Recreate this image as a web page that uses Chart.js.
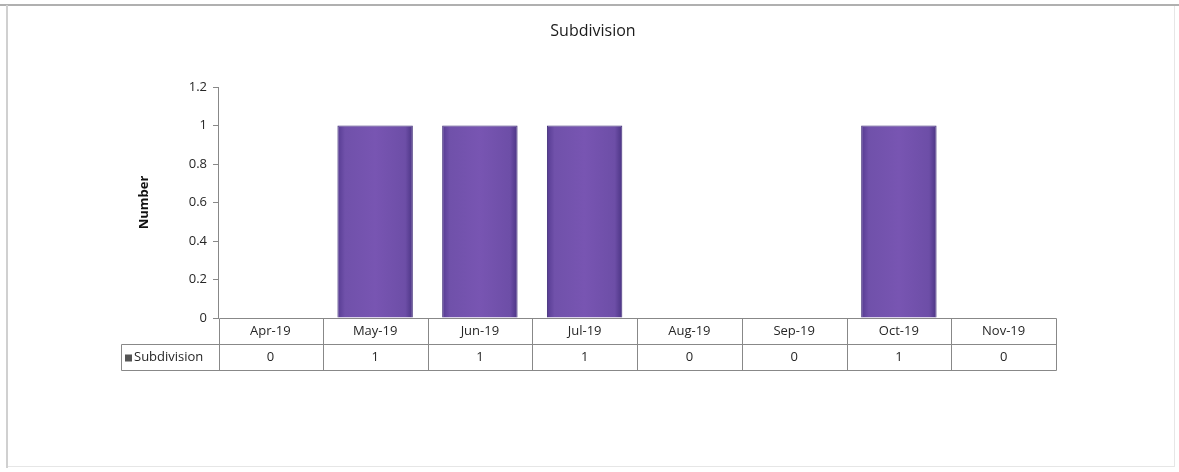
<!DOCTYPE html>
<html>
<head>
<meta charset="utf-8">
<title>Subdivision</title>
<script src="https://cdn.jsdelivr.net/npm/chart.js@4"></script>
<style>
  html, body { margin: 0; padding: 0; background: #fff; }
  #wrap { width: 1179px; height: 472px; position: relative; }
</style>
</head>
<body>
<div id="wrap"><canvas id="myChart" width="1179" height="472"></canvas></div>
<script>
var months = ["Apr-19", "May-19", "Jun-19", "Jul-19", "Aug-19", "Sep-19", "Oct-19", "Nov-19"];
var subdivision = [0, 1, 1, 1, 0, 0, 1, 0];
var yTicks = [0, 0.2, 0.4, 0.6, 0.8, 1, 1.2];

var seriesName = "Subdivision";
var font = "'Open Sans', 'Liberation Sans', sans-serif";
var lineColor = "#888";
var textColor = "#262626";

// purple bars with a slight left-to-right sheen
function barFill(ctx) {
  var chart = ctx.chart;
  var area = chart.chartArea;
  var x = chart.scales.x;
  if (!area || ctx.dataIndex === undefined) return "#7152ab";
  var cx = x.getPixelForValue(ctx.dataIndex);
  var half = (x.width / months.length) * 0.72 / 2;
  var g = chart.ctx.createLinearGradient(cx - half, 0, cx + half, 0);
  g.addColorStop(0, "#563b92");
  g.addColorStop(0.1, "#7051aa");
  g.addColorStop(0.5, "#7855b2");
  g.addColorStop(0.9, "#6d4ea7");
  g.addColorStop(1, "#4b3484");
  return g;
}

// frame, title and the data table under the plot
var extras = {
  id: "extras",
  beforeDraw: function (chart) {
    var c = chart.ctx;
    c.save();
    c.fillStyle = "#fff";
    c.fillRect(0, 0, chart.width, chart.height);
    c.strokeStyle = "#e6e6e6";
    c.lineWidth = 1;
    c.strokeRect(7.5, 5.5, 1167, 461);
    c.strokeStyle = "#b0b0b0";
    c.lineWidth = 2;
    c.beginPath();
    c.moveTo(0, 5); c.lineTo(chart.width, 5);
    c.stroke();
    c.strokeStyle = "#d0d0d0";
    c.beginPath();
    c.moveTo(7, 5); c.lineTo(7, 468);
    c.stroke();

    c.fillStyle = "#1a1a1a";
    c.font = "16px " + font;
    c.textAlign = "center";
    c.textBaseline = "middle";
    c.fillText("Subdivision", 593, 31);
    c.restore();
  },
  afterDraw: function (chart) {
    var c = chart.ctx;
    var x = chart.scales.x;
    var area = chart.chartArea;
    var colW = x.width / months.length;
    var top = Math.round(area.bottom) + 0.5;
    var mid = top + 26;
    var bot = mid + 26;
    var left = Math.round(area.left) + 1.5;
    var right = Math.round(area.right) + 0.5;
    var legLeft = 121.5;

    c.save();
    c.strokeStyle = lineColor;
    c.lineWidth = 1;
    c.beginPath();
    c.moveTo(left, top); c.lineTo(right, top);
    c.moveTo(legLeft, mid); c.lineTo(right, mid);
    c.moveTo(legLeft, bot); c.lineTo(right, bot);
    c.moveTo(legLeft, mid); c.lineTo(legLeft, bot);
    for (var i = 0; i <= months.length; i++) {
      var bx = i === 0 ? left : Math.round(x.getPixelForValue(i) - colW / 2) + 0.5;
      if (i === months.length) bx = right;
      c.moveTo(bx, top); c.lineTo(bx, bot);
    }
    c.stroke();

    c.fillStyle = textColor;
    c.font = "13px " + font;
    c.textAlign = "center";
    c.textBaseline = "middle";
    for (var j = 0; j < months.length; j++) {
      var cx = x.getPixelForValue(j);
      c.fillText(months[j], cx, (top + mid) / 2);
      c.fillText(String(subdivision[j]), cx, (mid + bot) / 2);
    }

    // legend key
    c.fillStyle = "#555";
    c.fillRect(125, (mid + bot) / 2 - 3, 7, 7);
    c.fillStyle = textColor;
    c.textAlign = "left";
    c.fillText(seriesName, 134, (mid + bot) / 2);
    c.restore();
  }
};

new Chart("myChart", {
  type: "bar",
  data: {
    labels: months,
    datasets: [
      {
        label: seriesName,
        data: subdivision,
        backgroundColor: barFill,
        borderColor: "#3f2c77",
        borderWidth: 1,
        categoryPercentage: 1,
        barPercentage: 0.72,
      },
    ],
  },
  options: {
    responsive: false,
    animation: false,
    layout: { padding: { left: 126, right: 123, top: 87, bottom: 154 } },
    plugins: {
      legend: { display: false },
      title: { display: false },
      tooltip: { enabled: false },
    },
    scales: {
      x: { display: false },
      y: {
        min: 0,
        max: 1.2,
        afterFit: function (s) { s.width = 92; },
        afterBuildTicks: function (s) {
          s.ticks = yTicks.map(function (v) { return { value: v }; });
        },
        border: { display: true, color: lineColor },
        grid: { drawOnChartArea: false, tickLength: 5, color: lineColor },
        ticks: {
          padding: 6,
          color: textColor,
          font: { family: font, size: 13 },
          callback: function (v) { return String(Math.round(v * 10) / 10); },
        },
        title: {
          display: true,
          text: "Number",
          color: "#111",
          padding: { top: 10 },
          font: { family: font, size: 13, weight: "bold" },
        },
      },
    },
  },
  plugins: [extras],
});
</script>
</body>
</html>
